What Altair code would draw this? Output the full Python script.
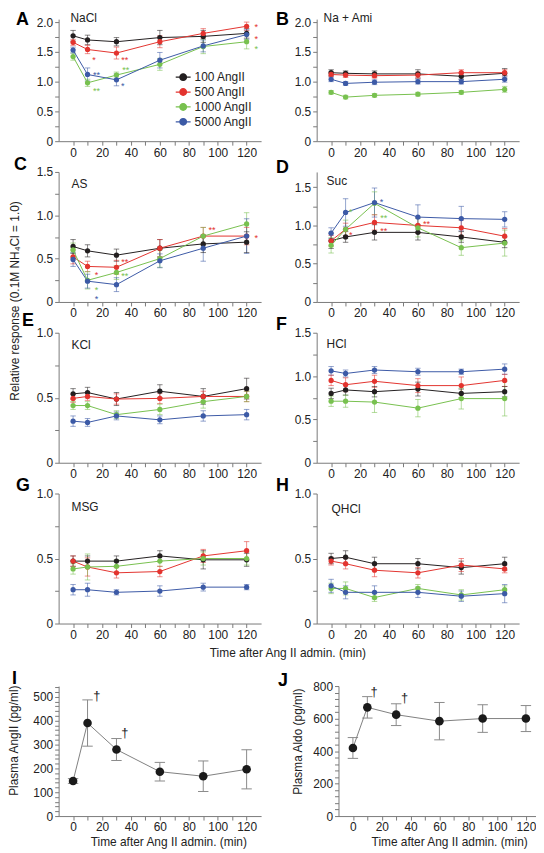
import altair as alt
import pandas as pd

FONT = "Liberation Sans"

times = [0, 10, 30, 60, 90, 120]
series = ["100 AngII", "500 AngII", "1000 AngII", "5000 AngII"]
series_colors = ["#231f20", "#e3342f", "#78c14f", "#3c5aa6"]

# ---- A: NaCl
nacl_mean = {
    "100 AngII": [1.77, 1.70, 1.67, 1.74, 1.76, 1.81],
    "500 AngII": [1.66, 1.54, 1.48, 1.67, 1.81, 1.93],
    "1000 AngII": [1.42, 0.98, 1.11, 1.29, 1.59, 1.67],
    "5000 AngII": [1.53, 1.12, 1.03, 1.36, 1.60, 1.79],
}
nacl_err = {
    "100 AngII": [0.09, 0.08, 0.07, 0.12, 0.10, 0.08],
    "500 AngII": [0.05, 0.07, 0.10, 0.10, 0.08, 0.07],
    "1000 AngII": [0.06, 0.06, 0.05, 0.10, 0.12, 0.12],
    "5000 AngII": [0.05, 0.11, 0.10, 0.13, 0.10, 0.08],
}
nacl_stars_t = [14.4, 35.7, 36.4, 16.2, 16.2, 34.4, 126.7, 126.7, 126.7]
nacl_stars_v = [1.42, 1.42, 1.24, 1.16, 0.90, 0.98, 1.97, 1.76, 1.59]
nacl_stars_txt = ["*", "**", "**", "**", "**", "*", "*", "*", "*"]
nacl_stars_s = ["500 AngII", "500 AngII", "1000 AngII", "5000 AngII", "1000 AngII",
                "5000 AngII", "500 AngII", "500 AngII", "1000 AngII"]

# ---- B: Na + Ami
ami_mean = {
    "100 AngII": [1.15, 1.14, 1.13, 1.13, 1.09, 1.14],
    "500 AngII": [1.12, 1.11, 1.10, 1.11, 1.15, 1.15],
    "1000 AngII": [0.82, 0.74, 0.77, 0.79, 0.82, 0.87],
    "5000 AngII": [1.04, 0.97, 0.99, 1.00, 1.00, 1.04],
}
ami_err = {
    "100 AngII": [0.05, 0.04, 0.05, 0.07, 0.05, 0.08],
    "500 AngII": [0.04, 0.04, 0.04, 0.05, 0.05, 0.05],
    "1000 AngII": [0.03, 0.03, 0.03, 0.03, 0.03, 0.05],
    "5000 AngII": [0.04, 0.03, 0.04, 0.04, 0.04, 0.05],
}

# ---- C: AS
as_mean = {
    "100 AngII": [0.64, 0.59, 0.54, 0.62, 0.67, 0.69],
    "500 AngII": [0.52, 0.41, 0.40, 0.62, 0.76, 0.76],
    "1000 AngII": [0.60, 0.25, 0.34, 0.50, 0.76, 0.90],
    "5000 AngII": [0.49, 0.24, 0.20, 0.475, 0.62, 0.76],
}
as_err = {
    "100 AngII": [0.08, 0.07, 0.07, 0.10, 0.10, 0.12],
    "500 AngII": [0.08, 0.06, 0.08, 0.10, 0.10, 0.10],
    "1000 AngII": [0.08, 0.10, 0.08, 0.10, 0.10, 0.13],
    "5000 AngII": [0.08, 0.08, 0.08, 0.08, 0.15, 0.20],
}
as_stars_t = [16.2, 35.7, 35.7, 96.0, 126.7, 16.2, 16.2]
as_stars_v = [0.35, 0.50, 0.33, 0.86, 0.77, 0.17, 0.07]
as_stars_txt = ["*", "**", "**", "**", "*", "*", "*"]
as_stars_s = ["500 AngII", "500 AngII", "1000 AngII", "500 AngII", "500 AngII",
              "1000 AngII", "5000 AngII"]

# ---- D: Suc
suc_mean = {
    "100 AngII": [0.80, 0.85, 0.91, 0.91, 0.85, 0.78],
    "500 AngII": [0.80, 0.95, 1.04, 1.00, 0.97, 0.86],
    "1000 AngII": [0.74, 0.95, 1.29, 0.97, 0.71, 0.77],
    "5000 AngII": [0.90, 1.17, 1.30, 1.11, 1.09, 1.08],
}
suc_err = {
    "100 AngII": [0.10, 0.07, 0.10, 0.10, 0.07, 0.07],
    "500 AngII": [0.07, 0.08, 0.10, 0.10, 0.10, 0.10],
    "1000 AngII": [0.10, 0.12, 0.15, 0.12, 0.10, 0.17],
    "5000 AngII": [0.07, 0.18, 0.19, 0.16, 0.16, 0.10],
}
suc_stars_t = [34.8, 13.5, 36.4, 13.5, 36.4, 66.0]
suc_stars_v = [1.34, 1.21, 1.14, 0.91, 0.97, 1.06]
suc_stars_txt = ["*", "*", "**", "*", "**", "**"]
suc_stars_s = ["5000 AngII", "1000 AngII", "1000 AngII", "500 AngII", "500 AngII", "500 AngII"]

# ---- E: KCl
kcl_mean = {
    "100 AngII": [0.53, 0.54, 0.49, 0.55, 0.51, 0.57],
    "500 AngII": [0.495, 0.51, 0.49, 0.495, 0.51, 0.51],
    "1000 AngII": [0.44, 0.44, 0.37, 0.41, 0.47, 0.51],
    "5000 AngII": [0.32, 0.31, 0.36, 0.33, 0.36, 0.37],
}
kcl_err = {
    "100 AngII": [0.04, 0.04, 0.05, 0.05, 0.06, 0.08],
    "500 AngII": [0.03, 0.03, 0.04, 0.04, 0.04, 0.04],
    "1000 AngII": [0.03, 0.03, 0.03, 0.04, 0.05, 0.04],
    "5000 AngII": [0.04, 0.03, 0.03, 0.03, 0.04, 0.04],
}

# ---- F: HCl
hcl_mean = {
    "100 AngII": [0.80, 0.84, 0.82, 0.85, 0.80, 0.82],
    "500 AngII": [0.95, 0.90, 0.94, 0.89, 0.89, 0.95],
    "1000 AngII": [0.71, 0.71, 0.70, 0.63, 0.74, 0.74],
    "5000 AngII": [1.06, 1.03, 1.07, 1.05, 1.05, 1.08],
}
hcl_err = {
    "100 AngII": [0.06, 0.06, 0.06, 0.08, 0.05, 0.06],
    "500 AngII": [0.06, 0.08, 0.07, 0.08, 0.10, 0.07],
    "1000 AngII": [0.06, 0.07, 0.12, 0.10, 0.12, 0.20],
    "5000 AngII": [0.05, 0.04, 0.04, 0.04, 0.03, 0.06],
}

# ---- G: MSG
msg_mean = {
    "100 AngII": [0.48, 0.48, 0.48, 0.52, 0.49, 0.49],
    "500 AngII": [0.48, 0.435, 0.39, 0.40, 0.52, 0.56],
    "1000 AngII": [0.42, 0.435, 0.44, 0.48, 0.50, 0.50],
    "5000 AngII": [0.26, 0.26, 0.24, 0.25, 0.28, 0.28],
}
msg_err = {
    "100 AngII": [0.04, 0.04, 0.04, 0.04, 0.07, 0.05],
    "500 AngII": [0.04, 0.07, 0.04, 0.04, 0.05, 0.07],
    "1000 AngII": [0.04, 0.10, 0.05, 0.04, 0.05, 0.05],
    "5000 AngII": [0.04, 0.05, 0.02, 0.04, 0.03, 0.02],
}

# ---- H: QHCl
qhcl_mean = {
    "100 AngII": [0.50, 0.51, 0.46, 0.46, 0.43, 0.46],
    "500 AngII": [0.48, 0.46, 0.41, 0.39, 0.45, 0.42],
    "1000 AngII": [0.27, 0.27, 0.20, 0.27, 0.22, 0.26],
    "5000 AngII": [0.29, 0.24, 0.24, 0.24, 0.21, 0.23],
}
qhcl_err = {
    "100 AngII": [0.04, 0.05, 0.05, 0.04, 0.05, 0.05],
    "500 AngII": [0.03, 0.04, 0.05, 0.04, 0.05, 0.03],
    "1000 AngII": [0.04, 0.05, 0.03, 0.03, 0.04, 0.03],
    "5000 AngII": [0.05, 0.05, 0.05, 0.04, 0.04, 0.07],
}

# ---- I / J: plasma levels
ang_mean = [147, 390, 279, 186, 167, 196]
ang_err = [10, 97, 46, 39, 64, 82]
ang_dagger_t = [16.5, 35.7]
ang_dagger_v = [505, 347]

aldo_mean = [419, 669, 624, 584, 600, 600]
aldo_err = [64, 66, 67, 115, 85, 80]
aldo_dagger_t = [14.7, 35.8]
aldo_dagger_v = [765, 725]

ONE = pd.DataFrame({"k": [0]})
LEGEND_PATH = ("M-1,0L1,0"
               "M0.45,0A0.45,0.45,0,1,1,-0.45,0A0.45,0.45,0,1,1,0.45,0"
               "M0.28,0A0.28,0.28,0,1,1,-0.28,0A0.28,0.28,0,1,1,0.28,0"
               "M0.12,0A0.12,0.12,0,1,1,-0.12,0A0.12,0.12,0,1,1,0.12,0")


def long_df(means, errs):
    rows = []
    for s in series:
        for t, m, e in zip(times, means[s], errs[s]):
            rows.append({"t": t, "v": m, "lo": m - e, "hi": m + e, "s": s})
    return pd.DataFrame(rows)


def x_axis():
    return alt.Axis(values=list(range(0, 121, 10)),
                    labelExpr="datum.value % 20 == 0 ? format(datum.value, 'd') : ''",
                    title=None, labelOverlap=False)


def y_axis(step, label_step, fmt, vmax, offset=0):
    n = int(round(vmax / step))
    vals = [round(i * step, 6) for i in range(n + 1)]
    expr = ("abs(datum.value / %s - round(datum.value / %s)) < 0.001 ? "
            "(datum.value == 0 ? '0' : format(datum.value, '%s')) : ''") % (label_step, label_step, fmt)
    return alt.Axis(values=vals, labelExpr=expr, title=None, labelOverlap=False, offset=offset)


def text(txt, x, y, size=12, bold=False, align="left", baseline="middle", angle=0, color="#222"):
    return alt.Chart(ONE).mark_text(
        text=txt, font=FONT, fontSize=size, fontWeight="bold" if bold else "normal",
        align=align, baseline=baseline, angle=angle, color=color
    ).encode(x=alt.value(x), y=alt.value(y))


def taste_panel(means, errs, ydom, yax, w, h, letter, lxy, name, nxy,
                stars=None, legend=False, extra=()):
    df = long_df(means, errs)
    caps = df.melt(id_vars=["t", "s"], value_vars=["lo", "hi"], value_name="cap")
    xs = alt.Scale(domain=[-10, 130], nice=False, zero=False)
    ys = alt.Scale(domain=ydom, nice=False)
    cs = alt.Scale(domain=series, range=series_colors)
    X = alt.X("t:Q", scale=xs, axis=x_axis())
    if legend:
        leg = alt.Legend(
            title=None, orient="none", legendX=117, legendY=50,
            symbolType=LEGEND_PATH, symbolSize=225, symbolStrokeWidth=1.2,
            symbolOpacity=1, labelFont=FONT, labelFontSize=12, labelColor="#222",
            rowPadding=0, labelOffset=3)
        col = alt.Color("s:N", scale=cs, legend=leg)
    else:
        col = alt.Color("s:N", scale=cs, legend=None)
    err = alt.Chart(df).mark_rule(strokeWidth=1, opacity=0.55).encode(
        X, alt.Y("lo:Q", scale=ys, axis=yax), alt.Y2("hi:Q"), col)
    cap = alt.Chart(caps).mark_point(shape="stroke", size=30, strokeWidth=1, opacity=0.55).encode(
        X, alt.Y("cap:Q", scale=ys, axis=yax), col)
    line = alt.Chart(df).mark_line(strokeWidth=1).encode(
        X, alt.Y("v:Q", scale=ys, axis=yax), col)
    pts = alt.Chart(df).mark_point(filled=True, size=28, opacity=1).encode(
        X, alt.Y("v:Q", scale=ys, axis=yax), col)
    layers = [err, cap, line, pts]
    if stars is not None:
        sdf = pd.DataFrame({"t": stars[0], "v": stars[1], "txt": stars[2], "s": stars[3]})
        layers.append(alt.Chart(sdf).mark_text(font=FONT, fontSize=9, baseline="middle", dy=3).encode(
            X, alt.Y("v:Q", scale=ys, axis=yax), alt.Text("txt:N"), col))
    layers.append(text(letter, lxy[0], lxy[1], size=18, bold=True, color="#000"))
    layers.append(text(name, nxy[0], nxy[1], size=12))
    layers.extend(extra)
    return alt.layer(*layers).properties(width=w, height=h)


def plasma_panel(mean, err, dag_t, dag_v, ymax, ystep, ylab, w, h, xmax, dx, dy,
                 letter, lxy, ytitle, ytxy, xtx):
    # the cell is (w + dx) x (h + dy); the plot occupies its lower-right part
    df = pd.DataFrame({"t": times, "v": mean,
                       "lo": [m - e for m, e in zip(mean, err)],
                       "hi": [m + e for m, e in zip(mean, err)]})
    caps = df.melt(id_vars=["t"], value_vars=["lo", "hi"], value_name="cap")
    xs = alt.Scale(domain=[-10, xmax], nice=False, zero=False, range=[dx, dx + w])
    ys = alt.Scale(domain=[0, ymax], nice=False, range=[dy + h, dy])
    yax = y_axis(ystep, ylab, "d", ymax, offset=-dx)
    X = alt.X("t:Q", scale=xs, axis=x_axis())
    err_l = alt.Chart(df).mark_rule(strokeWidth=1, color="#8a8a8a").encode(
        X, alt.Y("lo:Q", scale=ys, axis=yax), alt.Y2("hi:Q"))
    cap_l = alt.Chart(caps).mark_point(shape="stroke", size=110, strokeWidth=1, color="#8a8a8a",
                                       opacity=1).encode(X, alt.Y("cap:Q", scale=ys, axis=yax))
    line = alt.Chart(df).mark_line(strokeWidth=1, color="#808080").encode(
        X, alt.Y("v:Q", scale=ys, axis=yax))
    pts = alt.Chart(df).mark_point(filled=True, size=75, opacity=1, color="#1a1a1a").encode(
        X, alt.Y("v:Q", scale=ys, axis=yax))
    ddf = pd.DataFrame({"t": dag_t, "v": dag_v, "txt": ["\u2020"] * len(dag_t)})
    dag = alt.Chart(ddf).mark_text(font=FONT, fontSize=13, baseline="middle", color="#222").encode(
        X, alt.Y("v:Q", scale=ys, axis=yax), alt.Text("txt:N"))
    layers = [err_l, cap_l, line, pts, dag,
              text(letter, dx + lxy[0], dy + lxy[1], size=18, bold=True, color="#000"),
              text(ytitle, dx + ytxy[0], dy + ytxy[1], size=12, align="center", angle=270),
              text("Time after Ang II admin. (min)", dx + xtx, dy + h + 26, size=12,
                   align="center")]
    return alt.layer(*layers).properties(width=w + dx, height=h + dy)


W = 204
H1 = 123
H = 131

pA = taste_panel(nacl_mean, nacl_err, [0, 2.05], y_axis(0.25, 0.5, ".1f", 2.0), W, H1,
                 "A", (-43, 1), "NaCl", (12, -1),
                 stars=(nacl_stars_t, nacl_stars_v, nacl_stars_txt, nacl_stars_s), legend=True)
pB = taste_panel(ami_mean, ami_err, [0, 2.05], y_axis(0.25, 0.5, ".1f", 2.0), W, H1,
                 "B", (-41, 1), "Na + Ami", (7, -1))
pC = taste_panel(as_mean, as_err, [0, 1.5], y_axis(0.25, 0.5, ".1f", 1.5), W, H,
                 "C", (-45, -7), "AS", (13, 12),
                 stars=(as_stars_t, as_stars_v, as_stars_txt, as_stars_s))
pD = taste_panel(suc_mean, suc_err, [0, 1.7], y_axis(0.25, 0.5, ".1f", 1.5), W, H,
                 "D", (-41, -4), "Suc", (10, 9),
                 stars=(suc_stars_t, suc_stars_v, suc_stars_txt, suc_stars_s))
pE = taste_panel(kcl_mean, kcl_err, [0, 1.0], y_axis(0.25, 0.5, ".1f", 1.0), W, H,
                 "E", (-37, -12), "KCl", (13, 12),
                 extra=[text("Relative response (0.1M NH\u2084Cl = 1.0)", -44, -32, size=12,
                             align="center", angle=270)])
pF = taste_panel(hcl_mean, hcl_err, [0, 1.5], y_axis(0.25, 0.5, ".1f", 1.5), W, H,
                 "F", (-41, -8), "HCl", (10, 11))
pG = taste_panel(msg_mean, msg_err, [0, 1.0], y_axis(0.25, 0.5, ".1f", 1.0), W, H,
                 "G", (-43, -8), "MSG", (13, 14),
                 extra=[text("Time after Ang II admin. (min)", 231, H + 30, size=12,
                             align="center")])
pH = taste_panel(qhcl_mean, qhcl_err, [0, 1.0], y_axis(0.25, 0.5, ".1f", 1.0), W, H,
                 "H", (-41, -8), "QHCl", (15, 16))

pI = plasma_panel(ang_mean, ang_err, ang_dagger_t, ang_dagger_v, 545, 20, 100, 204, H, 130,
                  0, 32, "I", (-47, -7), "Plasma AngII (pg/ml)", (-45, 55), 111)
pJ = plasma_panel(aldo_mean, aldo_err, aldo_dagger_t, aldo_dagger_v, 800, 40, 200, 199, H, 127,
                  22, 32, "J", (-61, -5), "Plasma Aldo (pg/ml)", (-41, 56), 112)

chart = alt.concat(
    pA, pB, pC, pD, pE, pF, pG, pH, pI, pJ,
    columns=2, spacing={"row": 31, "column": 56}, bounds="flush", align="each"
).resolve_scale(color="independent").resolve_legend(color="independent").properties(
    padding=0
).configure_view(stroke=None).configure_axis(
    labelFont=FONT, labelFontSize=12, labelColor="#222", domainColor="#7a7a7a",
    tickColor="#7a7a7a", tickSize=4, labelPadding=2, grid=False, domainWidth=1, tickWidth=1
)

chart.save("out.html", embed_options={"renderer": "svg", "actions": False})
